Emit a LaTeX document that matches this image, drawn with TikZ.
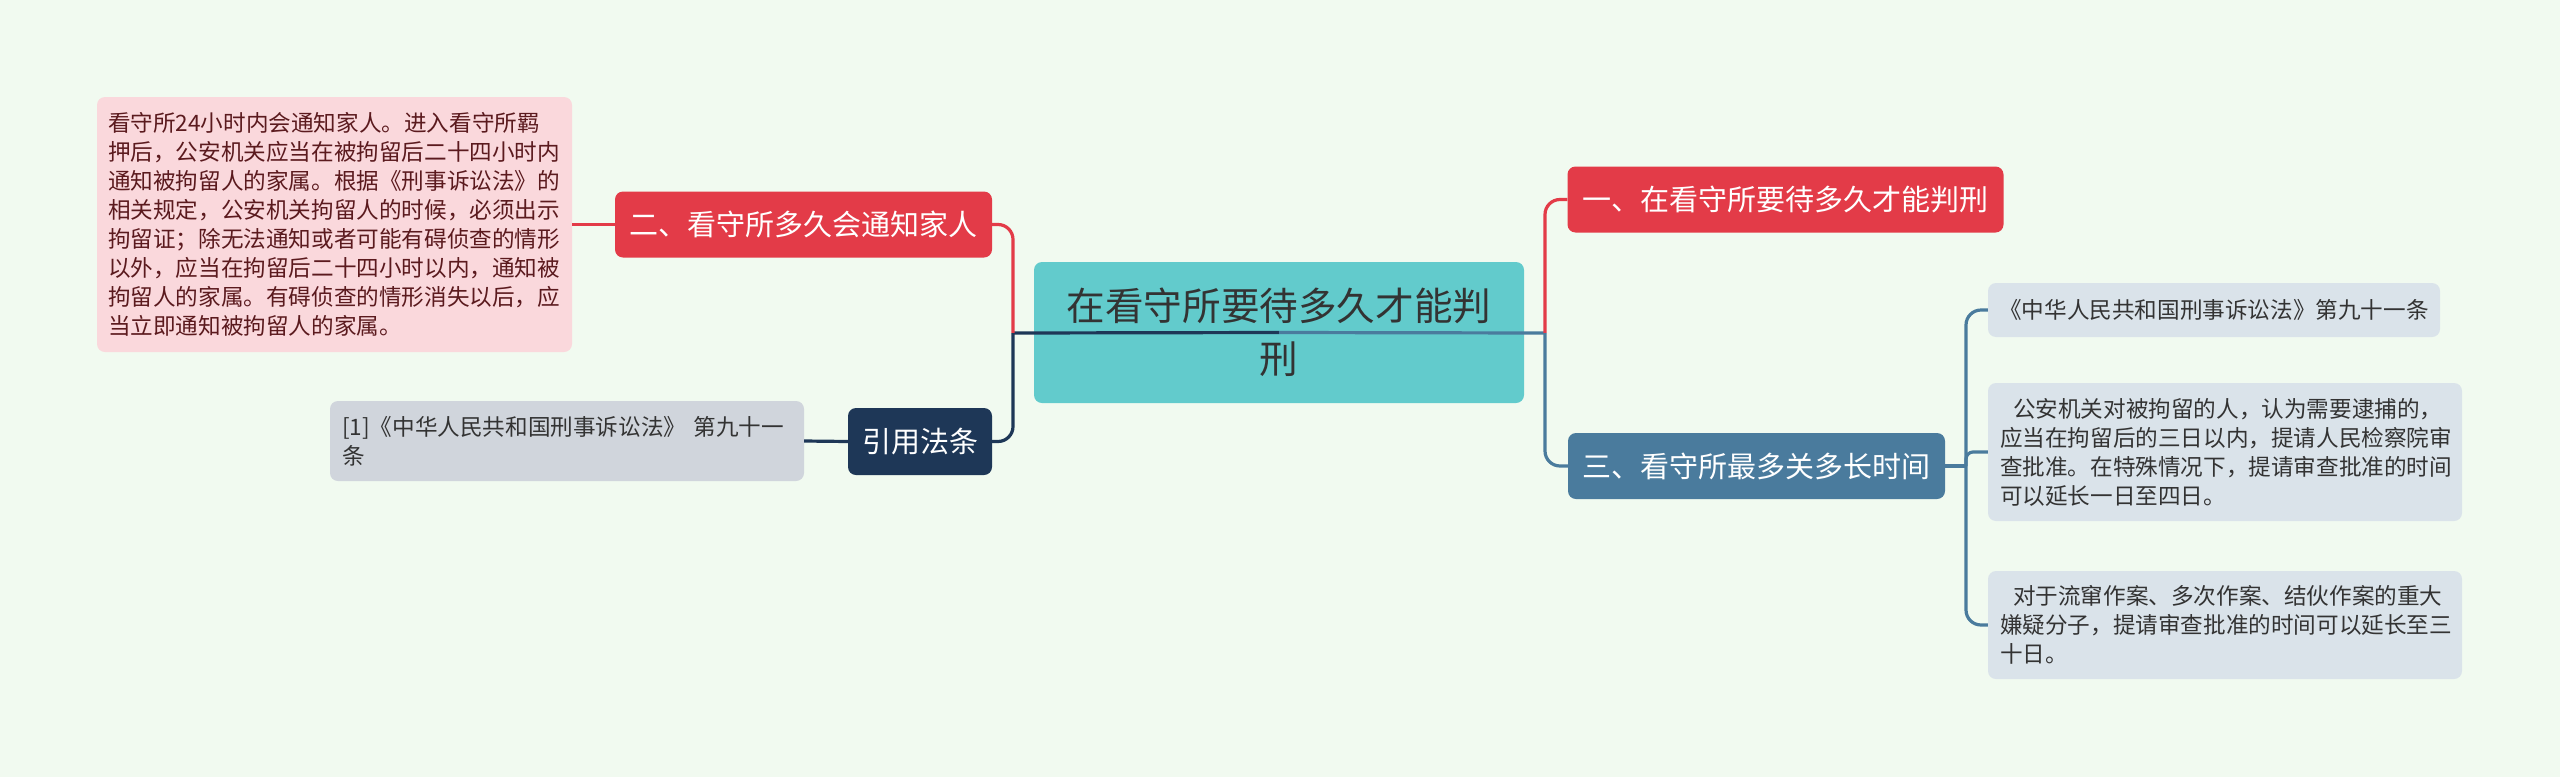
\documentclass[tikz,border=0pt]{standalone}
\usepackage{fontspec}
\setmainfont{Noto Sans CJK SC}
\definecolor{bgc}{HTML}{F1FAF0}
\definecolor{redc}{HTML}{E33B48}
\definecolor{navyc}{HTML}{1E3757}
\definecolor{bluec}{HTML}{4A7B9D}
\definecolor{tealc}{HTML}{62CBCC}
\definecolor{pinkc}{HTML}{FAD8DC}
\definecolor{maroonc}{HTML}{5B1A1E}
\definecolor{refc}{HTML}{D0D5DC}
\definecolor{leafc}{HTML}{DAE3EA}
\definecolor{darktext}{HTML}{333333}
\tikzset{
  basebox/.style={rounded corners=8pt, inner sep=0pt, draw=none},
  topicbox/.style={basebox, text=white, align=center, minimum height=66pt,
    font={\fontsize{29pt}{35pt}\selectfont}},
  smalltext/.style={font={\fontsize{22.6pt}{29pt}\selectfont}},
  conn/.style={line width=3.2pt},
  redline/.style={conn, draw=redc},
  navyline/.style={conn, draw=navyc},
  blueline/.style={conn, draw=bluec},
}
\begin{document}
\begin{tikzpicture}[x=1pt,y=-1pt]
\fill[bgc] (0,0) rectangle (2560,777);
\useasboundingbox (0,0) rectangle (2560,777);

% coordinates of junctions
\coordinate (jl) at (1013,333);
\coordinate (jr) at (1545,333);
\coordinate (j3) at (1966,466);

% root
\node[basebox, fill=tealc, text=darktext, minimum width=490pt, minimum height=141pt,
  align=center, font={\fontsize{38.6pt}{53pt}\selectfont}] (root) at (1279,332.5)
  {在看守所要待多久才能判\\刑};

% left branch
\node[topicbox, fill=redc, minimum width=377pt] (n2) at (803.5,224.5) {二、看守所多久会通知家人};
\node[topicbox, fill=navyc, minimum width=144pt, minimum height=67pt] (yy) at (920,441.5) {引用法条};

\node[basebox, fill=pinkc, text=maroonc, smalltext, minimum width=475pt, minimum height=255pt,
  text width=453pt, align=left] (pk) at (334.5,224.5)
  {看守所24小时内会通知家人。进入看守所羁\\
   押后，公安机关应当在被拘留后二十四小时内\\
   通知被拘留人的家属。根据《刑事诉讼法》的\\
   相关规定，公安机关拘留人的时候，必须出示\\
   拘留证；除无法通知或者可能有碍侦查的情形\\
   以外，应当在拘留后二十四小时以内，通知被\\
   拘留人的家属。有碍侦查的情形消失以后，应\\
   当立即通知被拘留人的家属。};

\node[basebox, fill=refc, text=darktext, smalltext, minimum width=474pt, minimum height=80pt,
  text width=450pt, align=left] (ref) at (567,441)
  {[1]《中华人民共和国刑事诉讼法》 第九十一\\条};

% right branch
\node[topicbox, fill=redc, minimum width=436pt] (n1) at (1785.5,199.5) {一、在看守所要待多久才能判刑};
\node[topicbox, fill=bluec, minimum width=377pt] (n3) at (1756.5,466) {三、看守所最多关多长时间};

\node[basebox, fill=leafc, text=darktext, smalltext, minimum width=452pt, minimum height=54pt,
  align=center] (l1) at (2214,310) {《中华人民共和国刑事诉讼法》第九十一条};

\node[basebox, fill=leafc, text=darktext, smalltext, minimum width=474pt, minimum height=138pt,
  text width=450pt, align=left] (l2) at (2225,452)
  {\hspace*{13pt}公安机关对被拘留的人，认为需要逮捕的，\\
   应当在拘留后的三日以内，提请人民检察院审\\
   查批准。在特殊情况下，提请审查批准的时间\\
   可以延长一日至四日。};

\node[basebox, fill=leafc, text=darktext, smalltext, minimum width=474pt, minimum height=108pt,
  text width=450pt, align=left] (l3) at (2225,625)
  {\hspace*{13pt}对于流窜作案、多次作案、结伙作案的重大\\
   嫌疑分子，提请审查批准的时间可以延长至三\\
   十日。};

% connectors
\draw[navyline] (jl) -- (root.center);
\draw[blueline] (root.center) -- (jr);
\draw[redline, rounded corners=15pt] (jl) |- (n2.east);
\draw[navyline, rounded corners=15pt] (jl) |- (yy.east);
\draw[redline] (n2.west) -- (pk.east);
\draw[navyline] (yy.west) -- (ref.east);
\draw[redline, rounded corners=15pt] (jr) |- (n1.west);
\draw[blueline, rounded corners=15pt] (jr) |- (n3.west);
\draw[blueline] (n3.east) -- (j3);
\draw[blueline, rounded corners=15pt] (j3) |- (l1.west);
\draw[blueline, rounded corners=7pt] (j3) |- (l2.west);
\draw[blueline, rounded corners=15pt] (j3) |- (l3.west);
\end{tikzpicture}
\end{document}
